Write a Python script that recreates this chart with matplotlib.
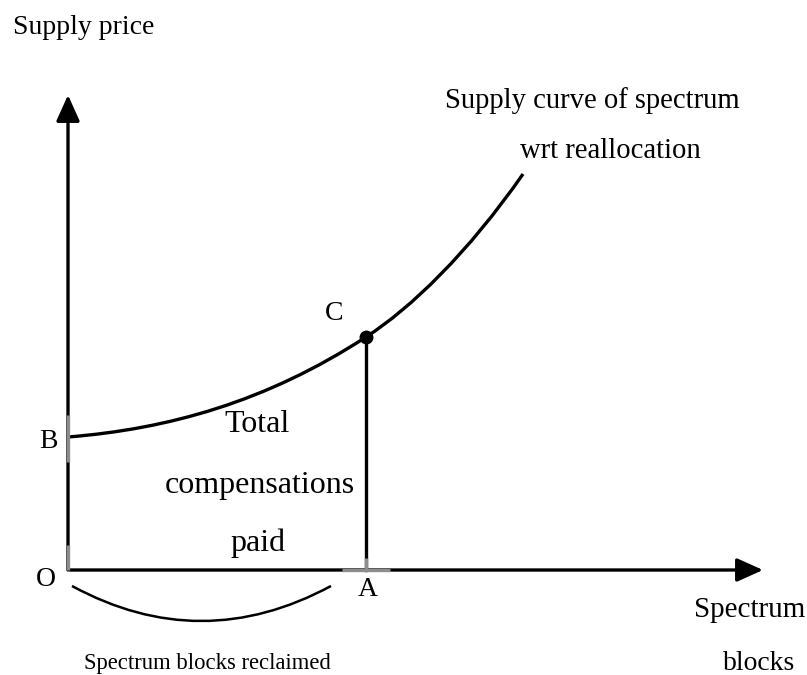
import numpy as np
import matplotlib.pyplot as plt
from matplotlib.path import Path
from matplotlib.patches import PathPatch

plt.rcParams['font.family'] = ['Liberation Serif', 'DejaVu Serif']

# supply curve (origin at O, units ~ pixels)
# given as bezier pieces: start, two handles, end
curveX = [0, 100, 198, 298, 343, 400, 455]
curveY = [133, 141, 168, 233, 262, 317, 396]
pointC = (298, 233)
pointB = 133
xEnd = 695
yEnd = 475

fig = plt.figure(figsize=(8.07, 6.75), dpi=100)
ax = fig.add_axes([0, 0, 1, 1])
ax.set_xlim(-68, 739)
ax.set_ylim(-105, 570)
ax.axis('off')

lw = 2.4
grey = '#8c8c8c'

# axes with arrow heads
ax.annotate('', xy=(xEnd, 0), xytext=(2, 0),
            arrowprops=dict(arrowstyle='-|>,head_length=1.0,head_width=0.45', color='black', lw=lw, mutation_scale=16, shrinkA=0, shrinkB=0))
ax.annotate('', xy=(0, yEnd), xytext=(0, 0),
            arrowprops=dict(arrowstyle='-|>,head_length=1.0,head_width=0.45', color='black', lw=lw, mutation_scale=16, shrinkA=0, shrinkB=0))

# supply curve and C
codes = [Path.MOVETO] + [Path.CURVE4] * 6
ax.add_patch(PathPatch(Path(list(zip(curveX, curveY)), codes), fill=False, lw=lw, color='black', zorder=4))
ax.plot([pointC[0], pointC[0]], [0, pointC[1]], color='black', lw=lw, zorder=4)
ax.plot(*pointC, 'o', color='black', markersize=9, zorder=6)

# grey bits
ax.plot([0, 0], [pointB - 25, pointB + 22], color=grey, lw=lw, solid_capstyle='butt', zorder=5)
ax.plot([0, 0], [0, 25], color=grey, lw=lw, solid_capstyle='butt', zorder=5)
ax.plot([pointC[0] - 24, pointC[0] + 24], [0, 0], color=grey, lw=lw, solid_capstyle='butt', zorder=5)
ax.plot([pointC[0], pointC[0]], [1, 12], color=grey, lw=lw, solid_capstyle='butt', zorder=5)

# brace under the axis
verts = [(4, -16), (133, -86), (263, -16)]
path = Path(verts, [Path.MOVETO, Path.CURVE3, Path.CURVE3])
ax.add_patch(PathPatch(path, fill=False, lw=1.8, color='black'))

fs = 20
ax.text(-55, 542, 'Supply price', fontsize=20, va='center', ha='left')
ax.text(377, 469, 'Supply curve of spectrum', fontsize=20.6, va='center', ha='left')
ax.text(452, 419, 'wrt reallocation', fontsize=20.6, va='center', ha='left')
ax.text(266, 256, 'C', fontsize=fs, va='center', ha='center')
ax.text(-20, 128, 'B', fontsize=fs, va='center', ha='center')
ax.text(-22, -10, 'O', fontsize=fs, va='center', ha='center')
ax.text(300, -20, 'A', fontsize=fs, va='center', ha='center')
ax.text(189, 145, 'Total', fontsize=23, va='center', ha='center')
ax.text(192, 84, 'compensations', fontsize=23, va='center', ha='center')
ax.text(190, 27, 'paid', fontsize=23, va='center', ha='center')
ax.text(682, -40, 'Spectrum', fontsize=21, va='center', ha='center')
ax.text(691, -94, 'blocks', fontsize=20, va='center', ha='center')
ax.text(139, -93, 'Spectrum blocks reclaimed', fontsize=16.3, va='center', ha='center')

fig.savefig('out.png', dpi=100)
